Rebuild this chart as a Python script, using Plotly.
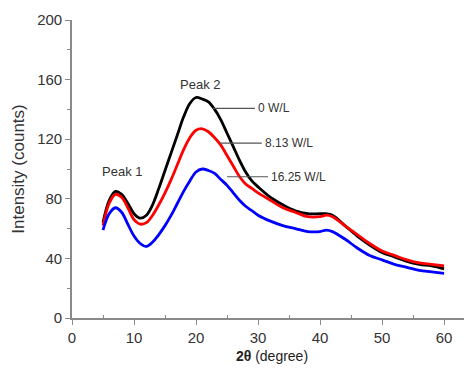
import plotly.graph_objects as go

two_theta = [5, 6, 7, 8, 9, 10, 11, 12, 13, 14, 15, 16, 17, 18, 19, 20, 21, 22, 23, 24, 25,
             26, 27, 28, 29, 30, 32, 34, 36, 38, 40, 41, 42, 44, 46, 48, 50, 52, 54, 56, 58, 60]
i_0 = [64, 79, 85, 83, 77, 70, 67, 69, 76, 87, 99, 111, 123, 135, 144, 148, 147, 145, 140, 133, 124,
       115, 106, 98, 92, 88, 81, 76, 72, 70, 70, 70, 69, 62, 55, 49, 44, 41, 38, 36, 35, 33]
i_813 = [62, 77, 83, 81, 74, 66, 63, 64, 69, 76, 84, 93, 103, 113, 121, 126, 127, 125, 121, 116, 109,
         102, 95, 90, 87, 84, 79, 74, 71, 68, 68, 69, 68, 62, 56, 50, 45, 42, 39, 37, 36, 35]
i_1625 = [59, 70, 74, 71, 63, 55, 50, 48, 51, 56, 62, 69, 77, 85, 92, 98, 100, 99, 97, 93, 89,
          84, 79, 75, 72, 69, 65, 62, 60, 58, 58, 59, 58, 53, 47, 42, 39, 36, 34, 32, 31, 30]
series_names = ["0 W/L", "8.13 W/L", "16.25 W/L"]
series_colors = ["#000000", "#ff0000", "#0000ff"]

fig = go.Figure()
for ys, name, col in zip([i_0, i_813, i_1625], series_names, series_colors):
    fig.add_trace(go.Scatter(x=two_theta, y=ys, mode="lines", name=name,
                             line=dict(color=col, width=2.8, shape="spline", smoothing=1.0)))

# label leader lines and texts
leaders = [(22.7, 29.5, 140.7, "0 W/L"), (23.9, 30.6, 117.4, "8.13 W/L"), (25.0, 31.6, 94.8, "16.25 W/L")]
for x0, x1, y, txt in leaders:
    fig.add_shape(type="line", x0=x0, x1=x1, y0=y, y1=y, line=dict(color="#555555", width=1.2))
    fig.add_annotation(x=x1 + 0.2, y=y, text=txt, showarrow=False, xanchor="left",
                       font=dict(family="Liberation Sans", size=12, color="#333333"))
fig.add_annotation(x=8.1, y=98, text="Peak 1", showarrow=False,
                   font=dict(family="Liberation Sans", size=13, color="#333333"))
fig.add_annotation(x=20.7, y=157, text="Peak 2", showarrow=False,
                   font=dict(family="Liberation Sans", size=13, color="#333333"))

axis_common = dict(showline=True, linecolor="#8a8a8a", linewidth=1.6, showgrid=False, zeroline=False,
                   automargin=False,
                   tickfont=dict(family="Liberation Sans", size=15, color="#333333"),
                   tickcolor="#8a8a8a", ticks="outside", ticklen=5, tickwidth=1.4)
fig.update_xaxes(range=[0, 64.5], tickvals=[0, 10, 20, 30, 40, 50, 60],
                 minor=dict(tickvals=[5, 15, 25, 35, 45, 55], ticks="inside", ticklen=3, tickcolor="#8a8a8a"),
                 title=dict(text="<b>2θ</b> (degree)", standoff=6,
                            font=dict(family="Liberation Sans", size=14, color="#222222")),
                 **axis_common)
fig.update_yaxes(range=[0, 200], tickvals=[0, 40, 80, 120, 160, 200],
                 minor=dict(tickvals=[20, 60, 100, 140, 180], ticks="outside", ticklen=3, tickcolor="#8a8a8a"),
                 title=dict(text="Intensity (counts)", standoff=8,
                            font=dict(family="Liberation Sans", size=17, color="#333333")),
                 **axis_common)
fig.update_layout(width=464, height=365, margin=dict(l=64, r=0, t=12, b=55),
                  plot_bgcolor="white", paper_bgcolor="white", showlegend=False)
fig.write_html("out.html")
